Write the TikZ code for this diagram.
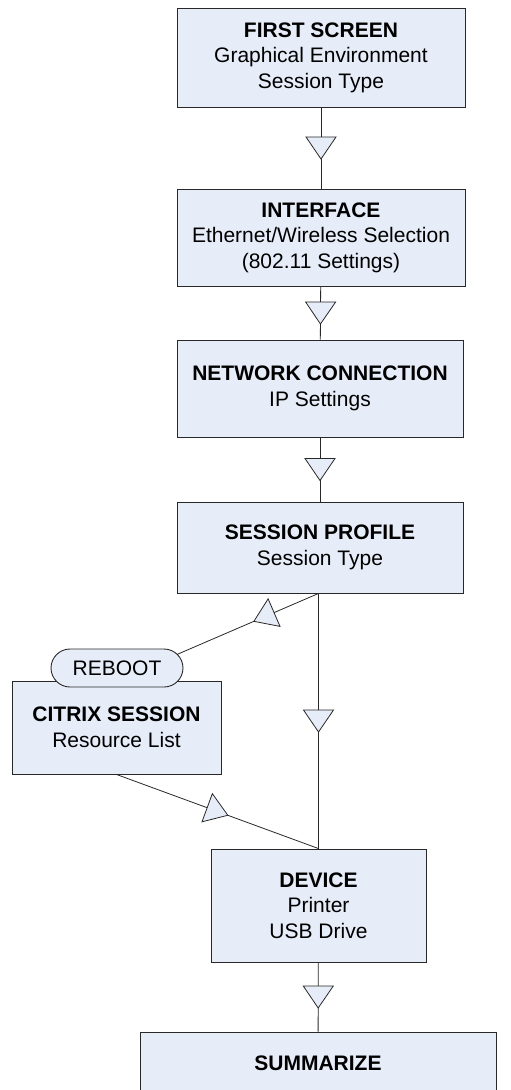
\documentclass[tikz,border=0pt]{standalone}
\usepackage{fontspec}
\setmainfont{Liberation Sans}
\usetikzlibrary{decorations.markings}
\definecolor{boxfill}{RGB}{231,237,248}
\definecolor{boxline}{RGB}{40,40,40}
\tikzset{box/.style = {draw=boxline, fill=boxfill, line width=0.9pt, align=center,
                       inner sep=0, font=\fontsize{21}{25.5}\selectfont}}
\tikzset{pill/.style = {box, rounded corners=19pt}}
\tikzset{flow/.style = {draw=boxline, line width=0.8pt,
                        decoration={markings,
                                    mark=at position #1 with {\draw [fill=boxfill] (11pt, 0) -- (-11pt, 15pt) -- (-11pt, -15pt) -- cycle;}},
                        postaction={decorate}},
         flow/.default = 0.5}

\begin{document}
\begin{tikzpicture}[x=1pt, y=-1pt]
      \clip (0, 0) rectangle (511, 1090);

      \node [box, minimum width=288, minimum height=99] (first) at (321, 57.5)
            {\textbf{FIRST SCREEN}\\Graphical Environment\\Session Type};
      \node [box, minimum width=288, minimum height=97] (iface) at (321, 237.5)
            {\textbf{INTERFACE}\\Ethernet/Wireless Selection\\(802.11 Settings)};
      \node [box, minimum width=286, minimum height=97] (network) at (320, 388.5)
            {\textbf{NETWORK CONNECTION}\\IP Settings};
      \node [box, minimum width=286, minimum height=91] (profile) at (320, 547.5)
            {\textbf{SESSION PROFILE}\\Session Type};
      \node [box, minimum width=209, minimum height=93] (citrix) at (116.5, 727.5)
            {\textbf{CITRIX SESSION}\\Resource List};
      \node [box, minimum width=215, minimum height=113] (device) at (318.5, 905.5)
            {\textbf{DEVICE}\\Printer\\USB Drive};
      \node [box, minimum width=356, minimum height=62] (summary) at (318, 1063)
            {\textbf{SUMMARIZE}};

      \coordinate (split) at (device.north |- profile.south);

      \draw [flow] (first) -- (iface);
      \draw [flow] (iface) -- (network);
      \draw [flow] (network) -- (profile);
      \draw [flow] (split) -- (device.north);
      \draw [flow=0.27] (split) -- (citrix.north);
      \draw [flow] (citrix.south) -- (device.north);
      \draw [flow] (device) -- (summary);

      \node [pill, minimum width=132, minimum height=38] (reboot) at (117, 668) {REBOOT};
    \end{tikzpicture}
\end{document}
